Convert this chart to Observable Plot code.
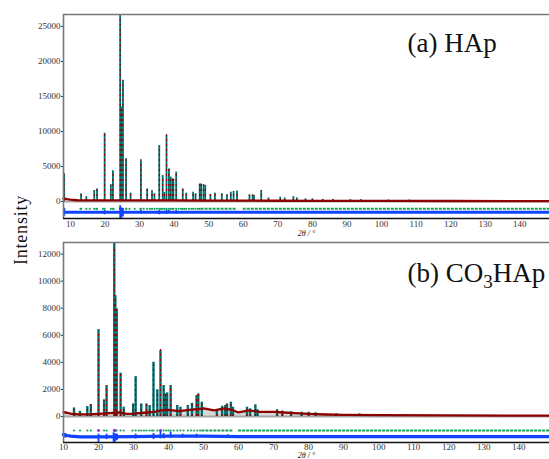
<!DOCTYPE html>
<html><head><meta charset="utf-8">
<script src="https://cdn.jsdelivr.net/npm/d3@7"></script>
<script src="https://cdn.jsdelivr.net/npm/@observablehq/plot@0.6"></script>
<style>
body{margin:0;background:#fff}
#wrap{position:relative;width:549px;height:459px;overflow:hidden;background:#fff}
#ylab{position:absolute;left:21px;top:230px;transform:translate(-50%,-50%) rotate(-90deg);font-family:'Liberation Serif','Times New Roman',serif;font-size:18px;line-height:1;letter-spacing:0.8px;white-space:nowrap;color:#111}
</style></head><body>
<div id="wrap"><div id="pa"></div><div id="pb"></div><div id="ylab">Intensity</div></div>
<script>
// ---------- Panel (a) HAp ----------
const peakA_2theta = [8.2,13.1,14.6,16.9,17.7,19.9,21.7,22.3,24.4,24.7,25.2,26.1,27.4,30.4,32.2,33.6,34.3,35.7,36.7,37.2,37.8,38.5,39.0,39.5,39.8,40.6,42.5,43.5,45.5,46.2,47.4,47.8,48.5,49.0,50.5,51.8,53.8,55.3,56.4,57.2,58.2,61.8,62.7,63.1,65.2,67.3,70.7,72.0,74.5,75.5,78.0,80.0,83.0,86.0,91.0,94.0,102.0,108.0];
const obsA  = [3950,1090,700,1570,1800,9750,2400,4400,26700,13500,17300,6100,1200,5800,1800,1550,1100,8000,3700,1300,9400,4650,3500,3250,3200,4200,1800,1200,1330,1100,2500,2500,2400,2300,1000,1200,1100,950,1330,1430,1470,950,950,850,1570,520,620,500,700,520,380,380,300,280,250,250,200,200];
const calcA = [3800,1100,700,1500,1750,9600,2300,4300,26000,13400,17200,6000,1150,6000,1750,1500,1050,7900,3600,1250,9600,4600,3400,3200,3150,4100,1750,1150,1300,1050,2450,2450,2350,2250,950,1150,1050,900,1300,1400,1450,900,900,800,1550,500,600,480,680,500,360,360,280,260,230,230,190,190];
const bgA_2theta = [8,9,10,12,15,20,25,30,40,50,60,70,80,100,120,148.6];
const bgA = [450,350,280,180,150,150,160,150,150,130,120,110,100,80,70,60];
const braggA = [8.3,12.9,13.1,14.6,15.6,16.9,17.5,17.7,19.4,19.9,21.7,22.3,22.5,25.2,26.1,26.2,27.1,28.6,30.2,30.4,31.2,32.2,33.0,33.6,34.3,35.0,35.7,36.2,36.7,37.2,37.8,38.5,39.0,39.5,39.8,40.6,41.3,42.0,42.5,43.0,43.5,44.3,45.0,45.5,46.2,46.9,47.4];
const braggA_2 = [24.4];
const braggRangeA_start = [47.8,60.0];
const braggRangeA_end = [58.0,148.6];
const braggLevelA = -1050;
const diffA_level = -1520;
const diffA_2theta = [8.2,19.9,24.4,24.7,25.2,30.4,35.7,37.8,38.5,40.6];
const diffA_lo = [-2100,-1900,-3000,-2600,-2200,-1800,-1900,-1800,-1700,-1800];
const diffA_hi = [-1100,-1300,-600,-900,-1000,-1300,-1300,-1200,-1300,-1300];
const xDomainA = [8,148.6];
const yDomainA = [-2425,26700];

// ---------- Panel (b) CO3HAp ----------
const peakB_2theta = [13.0,14.7,16.8,17.8,20.0,21.6,22.3,24.5,24.8,25.2,26.3,27.2,29.9,30.6,32.2,33.7,34.6,35.7,36.8,37.7,38.6,39.0,39.6,40.6,42.5,43.4,45.5,46.7,48.0,48.5,49.5,53.8,55.3,56.2,56.7,57.8,58.4,62.4,63.3,64.8,65.4,71.0,72.5,75.0,78.0,80.0,82.0,87.9,94.5,103.0];
const obsB  = [640,390,740,890,6420,1230,2290,12860,8930,7940,3200,690,930,2950,930,930,810,4010,1970,4870,2290,1670,1750,2290,810,690,810,980,1550,1670,1060,440,760,810,930,1060,690,690,570,860,490,500,400,350,320,320,280,200,200,150];
const calcB = [620,380,720,870,6300,1200,2250,12500,8800,7900,3150,680,920,2900,910,910,800,3950,1950,4950,2250,1650,1720,2250,800,680,800,960,1520,1650,1040,430,740,800,910,1040,680,680,560,840,480,490,390,340,310,310,270,190,190,140];
const bgB_2theta = [10,11,12,14,16,18,20,23,26,28,30,33,36,38,40,43,46,50,53,56,58,60,63,66,70,73,76,80,85,90,100,120,148.8];
const bgB = [330,280,220,170,160,170,200,250,300,200,220,280,350,450,500,400,500,600,450,600,500,300,450,350,350,300,250,200,150,120,100,80,70];
const braggB = [13.0,14.7,16.8,17.8,21.6,22.3,24.8,25.2,26.3,27.2,29.7,30.6,31.5,32.2,33.0,33.7,34.6,35.3,35.7,36.8,38.6,39.3,40.0,40.6,41.5,42.5,43.4,44.3,45.5,46.4,47.3,48.2,49.0];
const braggB_2 = [20.0,24.5,24.7,37.7];
const braggRangeB_start = [49.5,60.0];
const braggRangeB_end = [58.5,148.8];
const braggLevelB = -1030;
const diffB_2theta_line = [10,11,12,15,20,30,40,50,60,80,148.8];
const diffB_line = [-1330,-1400,-1450,-1500,-1500,-1480,-1450,-1450,-1480,-1480,-1480];
const diffB_2theta = [10.5,20.0,22.3,24.3,24.6,25.0,25.3,30.6,35.7,37.7,38.6,40.6,44.0,48.0,57.0];
const diffB_lo = [-1600,-1950,-1700,-1900,-1950,-1800,-1750,-1650,-1700,-1650,-1650,-1600,-1600,-1600,-1550];
const diffB_hi = [-1250,-1300,-1300,-1200,-1250,-1300,-1300,-1300,-1250,-1100,-1250,-1150,-1300,-1300,-1350];
const xDomainB = [10,148.8];
const yDomainB = [-1917,12854];

const xLabel = "2θ / °";
const titleA = "(a) HAp";
const titleB = "(b) CO3HAp";

const SERIF = "'Liberation Serif','Times New Roman',serif";
const C = {teal:"#007070", red:"#8b0000", green:"#17a456", purple:"#8a2be2", blue:"#1144ff", frame:"#777", gray:"#a8a8a8"};
const fmt = d3.format("d");

function panel(o) {
  const peaks = o.px.map((x,i)=>({x, obs:o.obs[i], calc:o.calc[i]}));
  const bg = o.bgx.map((x,i)=>({x, y:o.bg[i]}));
  const ranges = o.rs.map((s,i)=>({x1:s, x2:o.re[i]}));
  const spikes = o.dx.map((x,i)=>({x, lo:o.dlo[i], hi:o.dhi[i]}));
  const marks = [
    Plot.ruleY([0], {stroke: C.gray, strokeWidth: 2}),
    o.bgArea ? Plot.areaY(bg, {x:"x", y1:0, y2:"y", fill:C.gray, fillOpacity:0.45}) : null,
    Plot.ruleX(peaks, {x:"x", y1:0, y2:"obs", stroke:C.teal, strokeWidth:o.pw, clip:true}),
    Plot.line(bg, {x:"x", y:"y", stroke:C.red, strokeWidth:2.3}),
    Plot.ruleX(peaks, {x:"x", y1:0, y2:"calc", stroke:C.red, strokeWidth:1.1, strokeDasharray:"2,3", clip:true}),
    Plot.ruleY(ranges, {y:()=>o.bl, x1:"x1", x2:"x2", stroke:C.green, strokeWidth:2, strokeDasharray:"3,1"}),
    Plot.dot(o.bragg, {x:d=>d, y:()=>o.bl, r:1.1, fill:C.green}),
    Plot.dot(o.bragg2, {x:d=>d, y:()=>o.bl, r:1.4, fill:C.purple}),
    o.dlinex ? Plot.line(o.dlinex.map((x,i)=>({x, y:o.dline[i]})), {x:"x", y:"y", stroke:C.blue, strokeWidth:3.3})
             : Plot.ruleY([o.dlevel], {stroke:C.blue, strokeWidth:3}),
    Plot.ruleX(spikes, {x:"x", y1:"lo", y2:"hi", stroke:C.blue, strokeWidth:1.8, clip:true}),
    Plot.ruleX([o.xd[0]], {stroke:C.frame, strokeWidth:1.6}),
    Plot.ruleY([o.yd[1]], {stroke:C.frame, strokeWidth:1.6}),
    Plot.ruleY([o.yd[0]], {stroke:"#111", strokeWidth:1.3}),
    Plot.text([xLabel], {frameAnchor:"bottom", dy:o.xlabDy, fontSize:8, fontStyle:"italic", fill:"#222", fontFamily:SERIF}),
    Plot.text([o.title], {frameAnchor:"top-left", dx:344, dy:o.titleDy, textAnchor:"start", lineAnchor:"top", fontSize:27, fontFamily:SERIF, fill:"#111"})
  ].filter(Boolean);
  return Plot.plot({
    width:549, height:o.h, marginLeft:63, marginRight:0, marginTop:o.mt, marginBottom:o.mb,
    style:{fontFamily:SERIF, fontSize:"9px", color:"#333", background:"#fff", overflow:"visible"},
    x:{domain:o.xd, ticks:14, tickSize:0, tickPadding:o.tp, label:null, tickFormat:fmt},
    y:{domain:o.yd, ticks:o.yt, tickSize:2, tickPadding:1, label:null, tickFormat:fmt},
    marks
  });
}

const svgA = panel({px:peakA_2theta, obs:obsA, calc:calcA, bgx:bgA_2theta, bg:bgA, rs:braggRangeA_start, re:braggRangeA_end,
  bragg:braggA, bragg2:braggA_2, bl:braggLevelA, dlevel:diffA_level, dx:diffA_2theta, dlo:diffA_lo, dhi:diffA_hi,
  xd:xDomainA, yd:yDomainA, yt:6, h:240, mt:14, mb:22, tp:2, pw:1.8, xlabDy:17, titleDy:18, title:titleA});
const svgB = panel({px:peakB_2theta, obs:obsB, calc:calcB, bgx:bgB_2theta, bg:bgB, rs:braggRangeB_start, re:braggRangeB_end,
  bragg:braggB, bragg2:braggB_2, bl:braggLevelB, dlinex:diffB_2theta_line, dline:diffB_line, dx:diffB_2theta, dlo:diffB_lo, dhi:diffB_hi,
  xd:xDomainB, yd:yDomainB, yt:7, h:219, mt:2, mb:17, tp:1, pw:2.4, bgArea:true, xlabDy:15, titleDy:20, title:titleB});
document.getElementById("pa").appendChild(svgA);
document.getElementById("pb").appendChild(svgB);

// subscript for CO3
d3.select(svgB).selectAll("text").filter(function(){return this.textContent === titleB;}).each(function(){
  const t = d3.select(this); t.text("");
  t.append("tspan").text("(b) CO");
  t.append("tspan").attr("baseline-shift","-30%").attr("font-size","19px").text("3");
  t.append("tspan").text("HAp");
});
</script>
</body></html>
